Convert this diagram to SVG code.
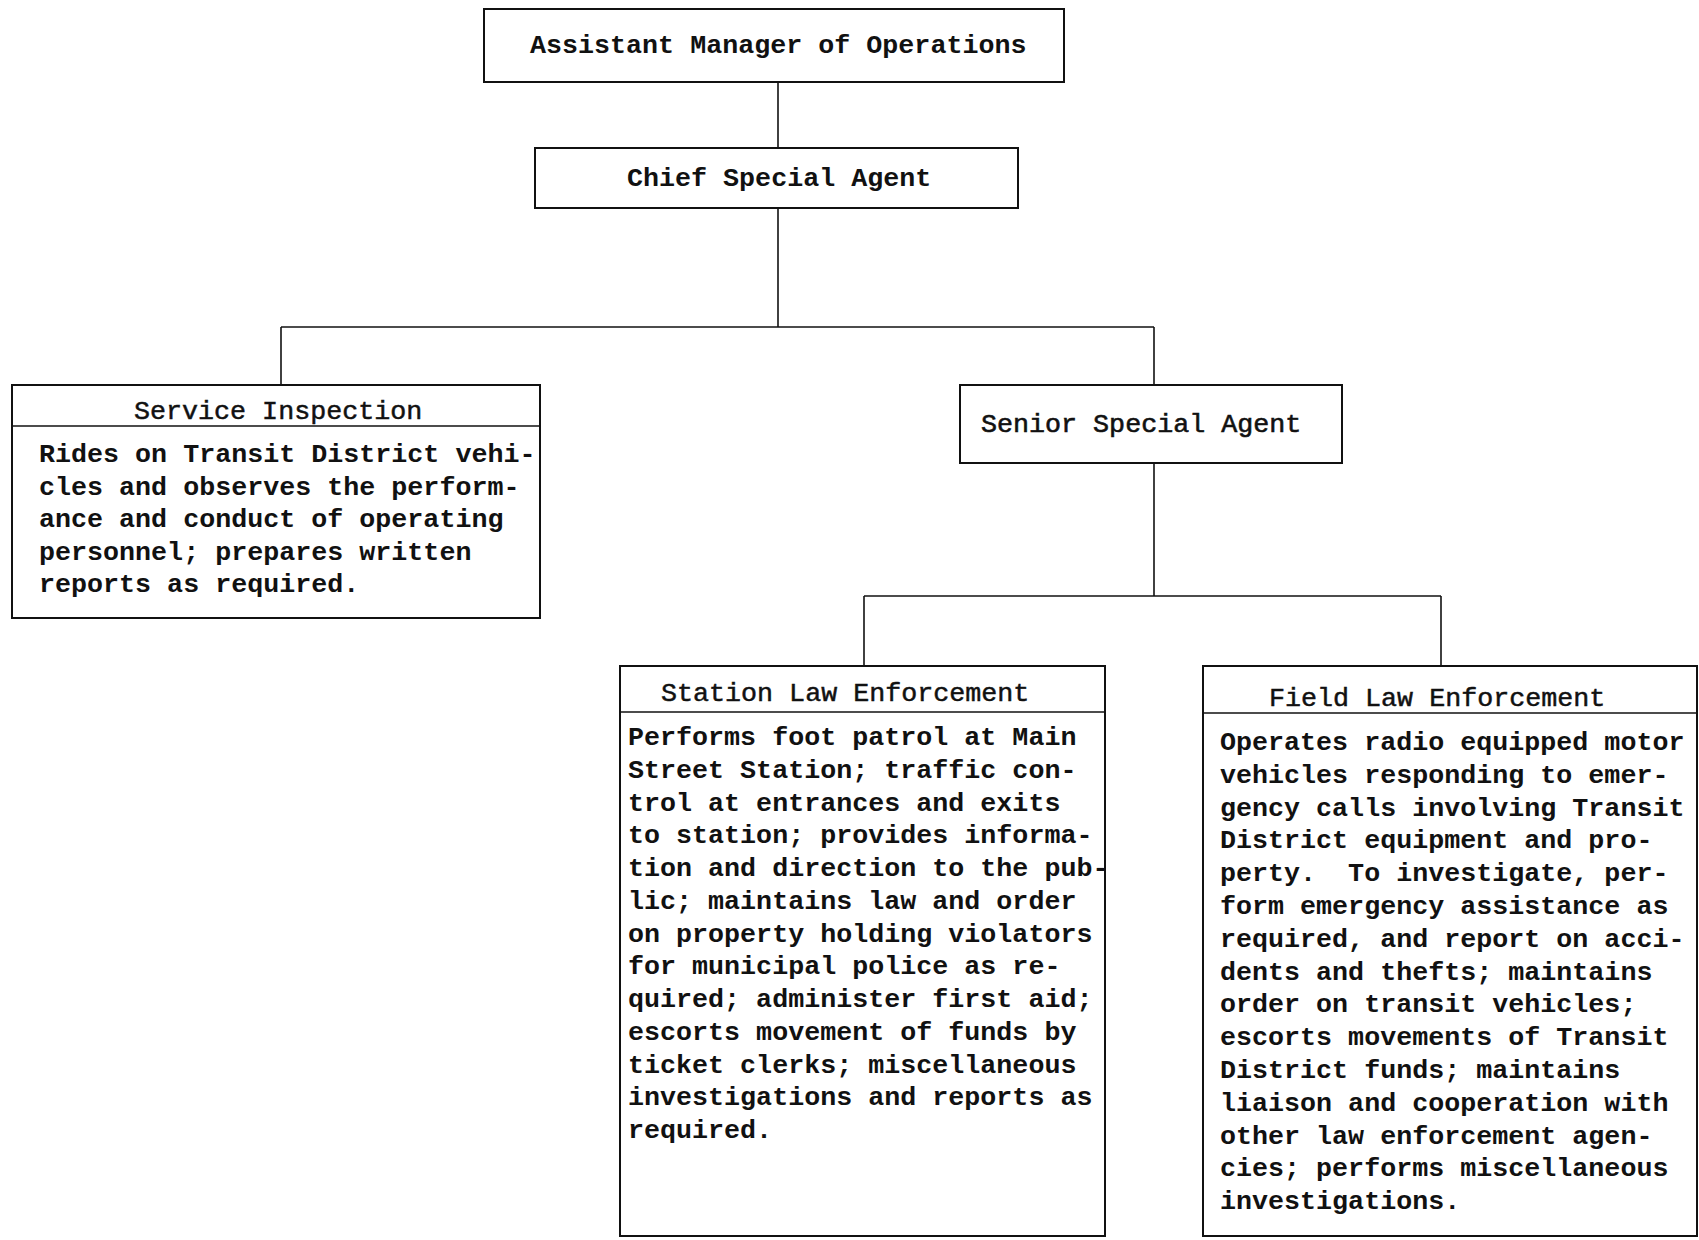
<svg xmlns="http://www.w3.org/2000/svg" width="1699" height="1240" viewBox="0 0 1699 1240">
  <style>
    .box { fill: #fff; stroke: #111; stroke-width: 2; }
    .rule { stroke: #111; stroke-width: 1.6; fill: none; }
    .link { stroke: #111; stroke-width: 1.6; fill: none; }
    text { font-family: "Liberation Mono", "Courier New", monospace; font-size: 26.7px; fill: #111; }
    .head { font-weight: bold; }
    .title { stroke: #111; stroke-width: 0.5; }
    .body { font-weight: bold; }
    .light { stroke: #111; stroke-width: 0.6; }
  </style>
  <rect width="1699" height="1240" fill="#fff"/>

  <g id="connectors">
    <path class="link" d="M778 82 V148"/>
    <path class="link" d="M778 208 V327"/>
    <path class="link" d="M281 327 H1154"/>
    <path class="link" d="M281 327 V385"/>
    <path class="link" d="M1154 327 V385"/>
    <path class="link" d="M1154 463 V596"/>
    <path class="link" d="M864 596 H1441"/>
    <path class="link" d="M864 596 V666"/>
    <path class="link" d="M1441 596 V666"/>
  </g>

  <g id="assistant-manager">
    <rect class="box" x="484" y="9" width="580" height="73"/>
    <text class="head" x="530" y="53">Assistant Manager of Operations</text>
  </g>

  <g id="chief-special-agent">
    <rect class="box" x="535" y="148" width="483" height="60"/>
    <text class="head" x="627" y="186">Chief Special Agent</text>
  </g>

  <g id="service-inspection">
    <rect class="box" x="12" y="385" width="528" height="233"/>
    <path class="rule" d="M12 426 H540"/>
    <text class="title" x="134" y="419">Service Inspection</text>
    <text class="body" x="39">
      <tspan x="39" y="462">Rides on Transit District vehi-</tspan>
      <tspan x="39" y="494.5">cles and observes the perform-</tspan>
      <tspan x="39" y="527">ance and conduct of operating</tspan>
      <tspan x="39" y="559.5">personnel; prepares written</tspan>
      <tspan x="39" y="592">reports as required.</tspan>
    </text>
  </g>

  <g id="senior-special-agent">
    <rect class="box" x="960" y="385" width="382" height="78" stroke-width="1.4"/>
    <text class="light" x="981" y="432">Senior Special Agent</text>
  </g>

  <g id="station-law-enforcement">
    <rect class="box" x="620" y="666" width="485" height="570"/>
    <path class="rule" d="M620 712 H1105"/>
    <text class="title" x="661" y="701">Station Law Enforcement</text>
    <text class="body">
      <tspan x="628" y="745">Performs foot patrol at Main</tspan>
      <tspan x="628" y="777.8">Street Station; traffic con-</tspan>
      <tspan x="628" y="810.5">trol at entrances and exits</tspan>
      <tspan x="628" y="843.3">to station; provides informa-</tspan>
      <tspan x="628" y="876">tion and direction to the pub-</tspan>
      <tspan x="628" y="908.8">lic; maintains law and order</tspan>
      <tspan x="628" y="941.5">on property holding violators</tspan>
      <tspan x="628" y="974.3">for municipal police as re-</tspan>
      <tspan x="628" y="1007">quired; administer first aid;</tspan>
      <tspan x="628" y="1039.8">escorts movement of funds by</tspan>
      <tspan x="628" y="1072.5">ticket clerks; miscellaneous</tspan>
      <tspan x="628" y="1105.3">investigations and reports as</tspan>
      <tspan x="628" y="1138">required.</tspan>
    </text>
  </g>

  <g id="field-law-enforcement">
    <rect class="box" x="1203" y="666" width="494" height="570"/>
    <path class="rule" d="M1203 713 H1697"/>
    <text class="title" x="1269" y="706">Field Law Enforcement</text>
    <text class="body" xml:space="preserve"><tspan x="1220" y="750">Operates radio equipped motor</tspan><tspan x="1220" y="782.8">vehicles responding to emer-</tspan><tspan x="1220" y="815.6">gency calls involving Transit</tspan><tspan x="1220" y="848.4">District equipment and pro-</tspan><tspan x="1220" y="881.2">perty.  To investigate, per-</tspan><tspan x="1220" y="914">form emergency assistance as</tspan><tspan x="1220" y="946.8">required, and report on acci-</tspan><tspan x="1220" y="979.6">dents and thefts; maintains</tspan><tspan x="1220" y="1012.4">order on transit vehicles;</tspan><tspan x="1220" y="1045.2">escorts movements of Transit</tspan><tspan x="1220" y="1078">District funds; maintains</tspan><tspan x="1220" y="1110.8">liaison and cooperation with</tspan><tspan x="1220" y="1143.6">other law enforcement agen-</tspan><tspan x="1220" y="1176.4">cies; performs miscellaneous</tspan><tspan x="1220" y="1209.2">investigations.</tspan></text>
  </g>
</svg>
